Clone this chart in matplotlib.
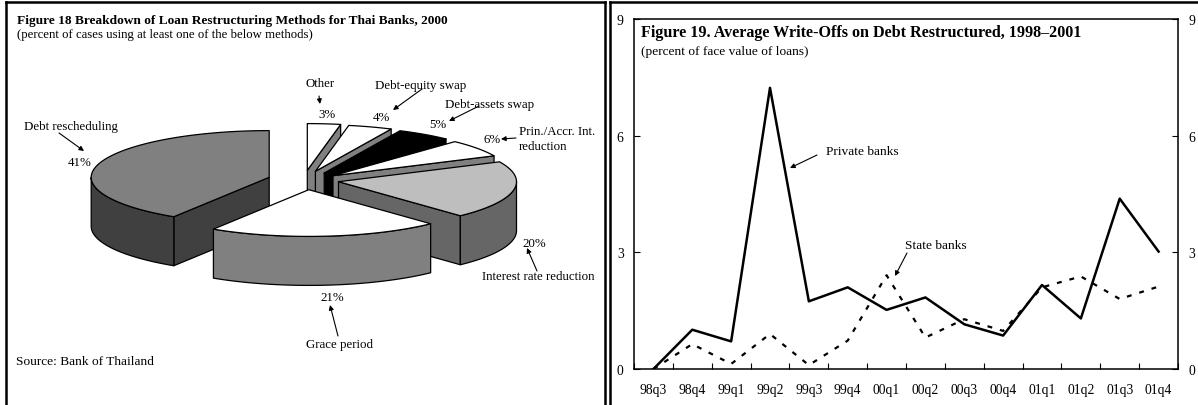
import numpy as np
from matplotlib import pyplot as plt
from matplotlib.patches import Polygon

plt.rcParams['font.family'] = ['Liberation Serif', 'DejaVu Serif']

W, H = 1198, 406

# left chart
methods = ["Debt rescheduling", "Grace period", "Interest rate reduction",
           "Prin./Accr. Int. reduction", "Debt-assets swap", "Debt-equity swap", "Other"]
shares = [41, 21, 20, 6, 5, 4, 3]

# right chart
quarters = ["98q3", "98q4", "99q1", "99q2", "99q3", "99q4", "00q1",
            "00q2", "00q3", "00q4", "01q1", "01q2", "01q3", "01q4"]
private_banks = [0.0, 1.01, 0.71, 7.23, 1.74, 2.10, 1.52, 1.84, 1.15, 0.86, 2.16, 1.30, 4.38, 3.02]
state_banks = [0.0, 0.64, 0.13, 0.90, 0.10, 0.73, 2.41, 0.81, 1.28, 0.98, 2.10, 2.38, 1.80, 2.12]

# pie drawing style, in pixels
pie_a, pie_b, pie_depth = 178, 46.7, 49
apex = [(269.2, 178.3), (308.8, 190.7), (338.5, 182.7), (333, 176.7),
        (324.2, 174), (315.4, 172.3), (307.3, 171.3)]
top_col = ['#808080', '#ffffff', '#bebebe', '#ffffff', '#000000', '#ffffff', '#ffffff']
side_col = ['#404040', '#808080', '#666666', '#808080', '#000000', '#808080', '#808080']
draw_order = [6, 5, 4, 3, 2, 0, 1]


def arc(cx, cy, t0, t1, dy=0):
    t = np.radians(np.linspace(t0, t1, 80))
    return np.column_stack([cx + pie_a*np.cos(t), cy - pie_b*np.sin(t) + dy])


def draw_slice(ax, i, t0, t1):
    cx, cy = apex[i]
    kw = dict(ec='black', lw=0.9, joinstyle='round')
    # only the cut faces turned towards us
    faces = []
    if np.cos(np.radians(t0)) > 0.01:
        faces.append(t0)
    if np.cos(np.radians(t1)) < -0.01:
        faces.append(t1)
    for t in faces:
        p = arc(cx, cy, t, t)[0]
        ax.add_patch(Polygon([(cx, cy), p, (p[0], p[1]+pie_depth), (cx, cy+pie_depth)],
                             fc=side_col[i], **kw))
    # rim, only the part facing us
    lo, hi = max(t0, 180), min(t1, 360)
    if lo < hi:
        top = arc(cx, cy, lo, hi)
        ax.add_patch(Polygon(np.vstack([top, arc(cx, cy, hi, lo, pie_depth)]),
                             fc=side_col[i], **kw))
    ax.add_patch(Polygon(np.vstack([[(cx, cy)], arc(cx, cy, t0, t1)]), fc=top_col[i], **kw))


fig = plt.figure(figsize=(W/100, H/100), dpi=100)

# whole figure in pixels, for the left panel and the frames
bg = fig.add_axes([0, 0, 1, 1])
bg.set_xlim(0, W)
bg.set_ylim(H, 0)
bg.axis('off')

for xs, ys in [((6, 6), (3, H)), ((6, 605), (3, 3)), ((605, 605), (3, H)),
               ((610, 610), (3, H)), ((610, W), (3, 3))]:
    bg.plot(xs, ys, color='black', lw=1.8, solid_capstyle='projecting')

angles = 90 + np.cumsum([0] + shares) * 3.6
for i in draw_order:
    draw_slice(bg, i, angles[i], angles[i+1])

fs = 9.3
bg.text(17, 21, "Figure 18 Breakdown of Loan Restructuring Methods for Thai Banks, 2000",
        fontsize=9.65, fontweight='bold', va='center')
bg.text(17, 35, "(percent of cases using at least one of the below methods)", fontsize=9.2, va='center')
bg.text(16, 362, "Source: Bank of Thailand", fontsize=9.6, va='center')

labels = [("Debt rescheduling", 24, 127), ("41%", 68, 163),
          ("Grace period", 306, 345), ("21%", 320, 298),
          ("Interest rate reduction", 482, 277), ("20%", 522, 244),
          ("Prin./Accr. Int.", 519, 132), ("reduction", 519, 147), ("6%", 484, 140),
          ("Debt-assets swap", 445, 105), ("5%", 429, 125),
          ("Debt-equity swap", 375, 86), ("4%", 373, 118),
          ("Other", 306, 84), ("3%", 318, 115)]
for s, x, y in labels:
    bg.text(x, y, s, fontsize=fs, va='center')

arrows = [((59, 134), (84, 152)), ((338, 337), (330, 306)), ((537, 272), (527, 249)),
          ((516, 139), (501, 140)), ((479, 107), (449, 122)), ((422, 90), (393, 111)),
          ((319, 97), (320, 105)), ((817, 156), (790, 169)), ((907, 254), (895, 277))]
for start, end in arrows:
    bg.annotate('', xy=end, xytext=start,
                arrowprops=dict(arrowstyle='-|>', color='black', lw=0.8, mutation_scale=7,
                                shrinkA=0, shrinkB=0))

# right panel
ax = fig.add_axes([634/W, 1-370/H, (1178-634)/W, (370-20)/H])
ax.set_facecolor('none')
x = np.arange(len(quarters))
ax.plot(x, state_banks, color='black', lw=1.6, dashes=(2.2, 3.6))
ax.plot(x, private_banks, color='black', lw=1.8)
ax.set_xlim(-0.5, len(quarters)-0.5)
ax.set_ylim(0, 9)
for s in ax.spines.values():
    s.set_linewidth(1.1)
ax.set_xticks(x)
ax.set_xticklabels(quarters, fontsize=9.8)
ax.tick_params(axis='x', length=0, pad=10)
ax.set_xticks(np.arange(-0.5, len(quarters)), minor=True)
ax.tick_params(axis='x', which='minor', direction='in', length=4, width=0.8)
ax.set_yticks([0, 3, 6, 9])
ax.tick_params(axis='y', direction='in', length=4, width=0.8, labelsize=9.8, pad=7.5,
               left=True, right=True, labelleft=True, labelright=True)

ax.text(0.012, 0.963, "Figure 19. Average Write-Offs on Debt Restructured, 1998–2001",
        transform=ax.transAxes, fontsize=11.6, fontweight='bold', va='center')
ax.text(0.012, 0.9086, "(percent of face value of loans)", transform=ax.transAxes, fontsize=9.6, va='center')

ax.text(826, 152, "Private banks", fontsize=9.6, va='center', transform=bg.transData)
ax.text(905, 246, "State banks", fontsize=9.6, va='center', transform=bg.transData)

plt.savefig("out.png", dpi=100)
